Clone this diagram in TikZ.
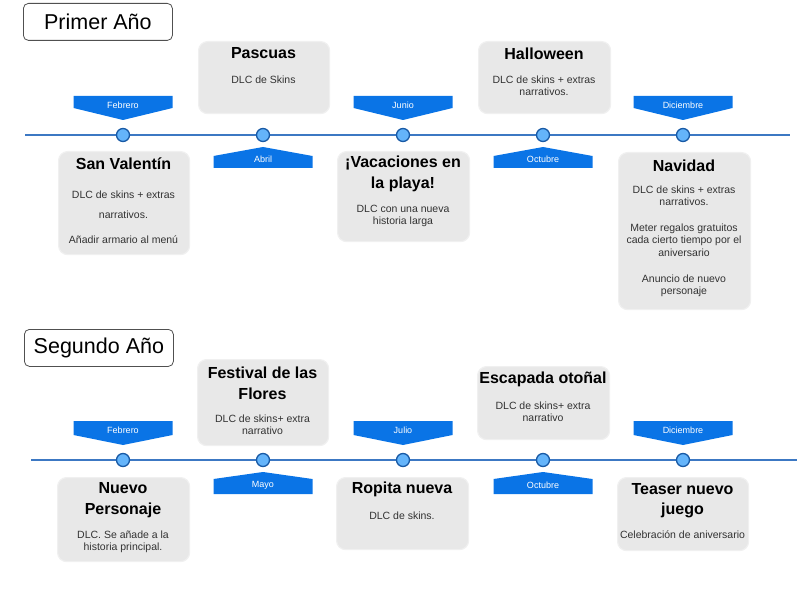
\documentclass[tikz,border=0pt]{standalone}
\usepackage{fontspec}
\setmainfont{Liberation Sans}
\usetikzlibrary{calc}
\definecolor{tagblue}{RGB}{10,116,230}
\definecolor{dotfill}{RGB}{100,180,250}
\definecolor{dotline}{RGB}{25,90,165}
\definecolor{axis}{RGB}{60,120,195}
\definecolor{boxfill}{RGB}{232,232,232}
\definecolor{boxline}{RGB}{240,240,240}
\definecolor{bodytxt}{RGB}{50,50,50}
\definecolor{yearline}{RGB}{80,80,80}
\tikzset{
  evbox/.style={draw=boxline, line width=1.2pt, fill=boxfill, rounded corners=9pt},
  yearbox/.style={draw=yearline, line width=0.8pt, fill=white, rounded corners=5pt},
  yeartxt/.style={inner sep=0pt, font=\fontsize{21.5}{24}\selectfont},
  ttl/.style={inner sep=0pt, align=center, font=\bfseries\fontsize{16}{20.5}\selectfont},
  body/.style={inner sep=0pt, align=center, text=bodytxt, font=\fontsize{10.5}{12.3}\selectfont},
  tagtxt/.style={inner sep=0pt, text=white, font=\fontsize{9}{10}\selectfont},
  dot/.style={circle, draw=dotline, fill=dotfill, line width=1.3pt, minimum size=13pt, inner sep=0pt},
  axisline/.style={draw=axis, line width=1.3pt}
}
\newcommand\mytagdown[7]{% name, cx, ytop, yshoulder, ypoint, ytext, label
  \fill[tagblue] ({#2-49.5},#3) -- ({#2+49.5},#3) -- ({#2+49.5},#4) -- (#2,#5) -- ({#2-49.5},#4) -- cycle;
  \node[tagtxt] (#1) at (#2,#6) {#7};}
\newcommand\mytagup[7]{% name, cx, ypoint, yshoulder, ybottom, ytext, label
  \fill[tagblue] (#2,#3) -- ({#2+49.5},#4) -- ({#2+49.5},#5) -- ({#2-49.5},#5) -- ({#2-49.5},#4) -- cycle;
  \node[tagtxt] (#1) at (#2,#6) {#7};}
\begin{document}
\begin{tikzpicture}[x=1pt,y=-1pt]
\useasboundingbox (0,0) rectangle (801,591);
% ===== Year 1 =====
\node[yearbox, minimum width=149pt, minimum height=37pt, anchor=north west] (y1box) at (23,3) {};
\node[yeartxt] (y1txt) at (y1box.center) {Primer Año};
\coordinate (a1s) at (25,135);
\coordinate (a1e) at (790,135);
\draw[axisline] (a1s) -- (a1e);
\foreach \x/\n in {123/a, 263/b, 403/c, 543/d, 683/e} {\node[dot] (d1\n) at (\x,135) {};}
\mytagdown{t1feb}{123}{96}{108}{120}{105}{Febrero}
\mytagdown{t1jun}{403}{96}{108}{120}{105}{Junio}
\mytagdown{t1dic}{683}{96}{108}{120}{105}{Diciembre}
\mytagup{t1abr}{263}{147}{156}{168}{159.5}{Abril}
\mytagup{t1oct}{543}{147}{156}{168}{159.5}{Octubre}
% boxes
\node[evbox, minimum width=131pt, minimum height=72pt, anchor=north west] (pas) at (198,41) {};
\node[ttl] (pasT) at (263.5,53.5) {Pascuas};
\node[body] (pasB) at (263.5,80) {DLC de Skins};
\node[evbox, minimum width=132pt, minimum height=72pt, anchor=north west] (hal) at (478,41) {};
\node[ttl] (halT) at (544,53.5) {Halloween};
\node[body] (halB) at (544,86) {DLC de skins + extras\\narrativos.};
\node[evbox, minimum width=131pt, minimum height=103pt, anchor=north west] (sva) at (58,151) {};
\node[ttl] (svaT) at (123.5,164) {San Valentín};
\node[body] (svaB) at (123.5,217.5) {DLC de skins + extras\\[7.7pt]narrativos.\\[12.7pt]Añadir armario al menú};
\node[evbox, minimum width=132pt, minimum height=90pt, anchor=north west] (vac) at (337,151) {};
\node[ttl] (vacT) at (403,174) {¡Vacaciones en\\la playa!};
\node[body] (vacB) at (403,216) {DLC con una nueva\\historia larga};
\node[evbox, minimum width=132pt, minimum height=157pt, anchor=north west] (nav) at (618,152) {};
\node[ttl] (navT) at (684,165.5) {Navidad};
\node[body] (navB) at (684,241) {DLC de skins + extras\\narrativos.\\[13.7pt]Meter regalos gratuitos\\cada cierto tiempo por el\\aniversario\\[13.7pt]Anuncio de nuevo\\personaje};
% ===== Year 2 =====
\node[yearbox, minimum width=149pt, minimum height=37pt, anchor=north west] (y2box) at (24,329) {};
\node[yeartxt] (y2txt) at (y2box.center) {Segundo Año};
\coordinate (a2s) at (31,460);
\coordinate (a2e) at (797,460);
\draw[axisline] (a2s) -- (a2e);
\foreach \x/\n in {123/a, 263/b, 403/c, 543/d, 683/e} {\node[dot] (d2\n) at (\x,460) {};}
\mytagdown{t2feb}{123}{421}{435}{445}{430}{Febrero}
\mytagdown{t2jul}{403}{421}{435}{445}{430}{Julio}
\mytagdown{t2dic}{683}{421}{435}{445}{430}{Diciembre}
\mytagup{t2may}{263}{472}{479}{494}{485}{Mayo}
\mytagup{t2oct}{543}{472}{479}{494}{485}{Octubre}
\node[evbox, minimum width=131pt, minimum height=86pt, anchor=north west] (fes) at (197,359) {};
\node[ttl] (fesT) at (262.5,383.5) {Festival de las\\Flores};
\node[body] (fesB) at (262.5,424.5) {DLC de skins+ extra\\narrativo};
\node[evbox, minimum width=132pt, minimum height=73pt, anchor=north west] (esc) at (477,366) {};
\node[ttl] (escT) at (543,379.5) {Escapada otoñal};
\node[body] (escB) at (543,411.5) {DLC de skins+ extra\\narrativo};
\node[evbox, minimum width=132pt, minimum height=84pt, anchor=north west] (nue) at (57,477) {};
\node[ttl] (nueT) at (123,500) {Nuevo\\Personaje};
\node[body] (nueB) at (123,541.5) {DLC. Se añade a la\\historia principal.};
\node[evbox, minimum width=132pt, minimum height=72pt, anchor=north west] (rop) at (336,477) {};
\node[ttl] (ropT) at (402,489.5) {Ropita nueva};
\node[body] (ropB) at (402,516) {DLC de skins.};
\node[evbox, minimum width=131pt, minimum height=73pt, anchor=north west] (tea) at (617,477) {};
\node[ttl] (teaT) at (682.5,500.5) {Teaser nuevo\\juego};
\node[body] (teaB) at (682.5,535) {Celebración de aniversario};
\end{tikzpicture}
\end{document}
